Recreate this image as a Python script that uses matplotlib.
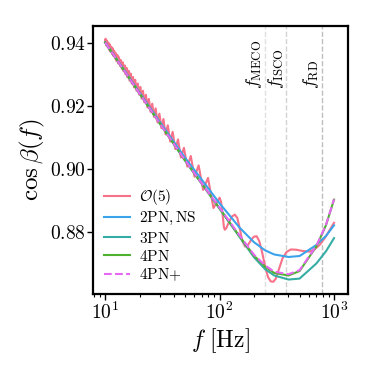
import matplotlib
matplotlib.use("Agg")
from matplotlib import pyplot as plt

plt.rcParams["font.family"] = "serif"
plt.rcParams["font.serif"] = ["cmr10"]
plt.rcParams["mathtext.fontset"] = "cm"
plt.rcParams["axes.formatter.use_mathtext"] = True

# smooth (orbit averaged) curves
f_smooth = [10, 15, 20, 30, 50, 70, 100, 150, 200, 250, 300, 400, 500, 700, 850, 1000]
cos_2pn_ns = [0.9403, 0.9310, 0.9243, 0.9150, 0.9035, 0.8965, 0.8890, 0.8812, 0.8766,
              0.8740, 0.8727, 0.8719, 0.8722, 0.8757, 0.8786, 0.8820]
cos_3pn = [0.9403, 0.9308, 0.9240, 0.9145, 0.9026, 0.8952, 0.8873, 0.8782, 0.8718,
           0.8680, 0.8660, 0.8647, 0.8650, 0.8698, 0.8737, 0.8779]
cos_4pn = [0.9403, 0.9308, 0.9240, 0.9145, 0.9026, 0.8952, 0.8874, 0.8784, 0.8723,
           0.8688, 0.8668, 0.8660, 0.8674, 0.8752, 0.8820, 0.8902]
cos_4pn_plus = [0.9403, 0.9308, 0.9240, 0.9145, 0.9027, 0.8953, 0.8876, 0.8787, 0.8726,
                0.8692, 0.8672, 0.8664, 0.8677, 0.8754, 0.8821, 0.8903]

# O(5) solution with nutation wiggles
f_o5 = [10.0, 10.09, 10.23, 10.37, 10.5, 10.66, 10.8, 10.96, 11.1, 11.3, 11.5, 11.6, 11.8,
        12.0, 12.2, 12.4, 12.6, 12.8, 13.0, 13.2, 13.5, 13.7, 14.0, 14.2, 14.5, 14.8,
        15.1, 15.4, 15.7, 16.0, 16.4, 16.7, 17.1, 17.5, 17.9, 18.3, 18.8, 19.3, 19.8,
        20.3, 20.8, 21.4, 22.0, 22.7, 23.4, 24.1, 24.9, 25.8, 26.7, 27.6, 28.7, 29.8,
        31.0, 32.3, 33.7, 35.3, 37.0, 38.9, 41.0, 43.3, 45.9, 48.8, 52.2, 56.0, 60.4,
        65.6, 71.8, 79.2, 88.4, 100, 103, 106, 109, 111, 114, 120, 128, 136, 143, 150,
        158, 167, 177, 190, 200, 211, 222, 235, 250, 265, 280, 295, 310, 330, 355, 385,
        420, 470, 530, 612, 680, 752, 850, 1000]
cos_o5 = [0.9408, 0.9415, 0.9394, 0.9409, 0.9388, 0.9403, 0.9380, 0.9397, 0.9374, 0.9390,
          0.9366, 0.9385, 0.9360, 0.9377, 0.9352, 0.9369, 0.9343, 0.9363, 0.9336, 0.9356,
          0.9328, 0.9347, 0.9319, 0.9340, 0.9311, 0.9330, 0.9301, 0.9322, 0.9292, 0.9313,
          0.9281, 0.9304, 0.9272, 0.9293, 0.9260, 0.9284, 0.9249, 0.9272, 0.9237, 0.9261,
          0.9224, 0.9249, 0.9212, 0.9236, 0.9196, 0.9223, 0.9182, 0.9208, 0.9166, 0.9193,
          0.9148, 0.9176, 0.9130, 0.9159, 0.9110, 0.9139, 0.9087, 0.9118, 0.9063, 0.9094,
          0.9036, 0.9067, 0.9007, 0.9041, 0.8975, 0.9011, 0.8933, 0.8971, 0.8875, 0.8908,
          0.8895, 0.8858, 0.8815, 0.8806, 0.8810, 0.8828, 0.8848, 0.8854, 0.8843, 0.8810,
          0.8770, 0.8752, 0.8757, 0.8775, 0.8784, 0.8785, 0.8770, 0.8735, 0.8688, 0.8655,
          0.8641, 0.8640, 0.8650, 0.8680, 0.8715, 0.8735, 0.8743, 0.8742, 0.8738, 0.8736,
          0.8744, 0.8758, 0.8785, 0.8828]

f_lines = [248, 384, 785]
line_labels = [r"$f_{\rm MECO}$", r"$f_{\rm ISCO}$", r"$f_{\rm RD}$"]
line_alpha = [0.25, 0.35, 0.5]

fig, ax = plt.subplots(figsize=(3.74, 3.74), dpi=100)
fig.subplots_adjust(left=0.249, right=0.930, bottom=0.214, top=0.930)

ax.plot(f_o5, cos_o5, color="#f77189", lw=1.5, label=r"$\mathcal{O}(5)$")
ax.plot(f_smooth, cos_2pn_ns, color="#3ba3ec", lw=1.5, label=r"$\rm 2PN, NS$")
ax.plot(f_smooth, cos_3pn, color="#36ada4", lw=1.5, label=r"$\rm 3PN$")
ax.plot(f_smooth, cos_4pn, color="#50b131", lw=1.5, label=r"$\rm 4PN$")
ax.plot(f_smooth, cos_4pn_plus, color="#e866f4", lw=1.5, ls="--", label=r"$\rm 4PN{+}$")

for fl, lab, a in zip(f_lines, line_labels, line_alpha):
    ax.axvline(fl, color="gray", alpha=a, ls="--", lw=1.0, zorder=0)
    ax.text(fl * 0.985, 0.9256, lab, rotation=90, ha="right", va="bottom", fontsize=13)

ax.set_xscale("log")
ax.set_xlim(7.85, 1320)
ax.set_ylim(0.8601, 0.9455)
ax.set_yticks([0.88, 0.90, 0.92, 0.94])
ax.set_yticklabels([r"$0.88$", r"$0.90$", r"$0.92$", r"$0.94$"])
ax.tick_params(labelsize=14, width=1.0, length=4, pad=1.5)
ax.tick_params(which="minor", width=0.8, length=2.5)
for sp in ax.spines.values():
    sp.set_linewidth(1.6)

ax.set_xlabel(r"$f\ [{\rm Hz}]$", fontsize=17, labelpad=2)
ax.set_ylabel(r"$\cos\beta(f)$", fontsize=18, labelpad=2)
ax.legend(loc="lower left", frameon=False, fontsize=11, handlelength=1.7,
          handletextpad=0.6, labelspacing=0.2, borderaxespad=0.3)

fig.savefig("out.png", dpi=100)
